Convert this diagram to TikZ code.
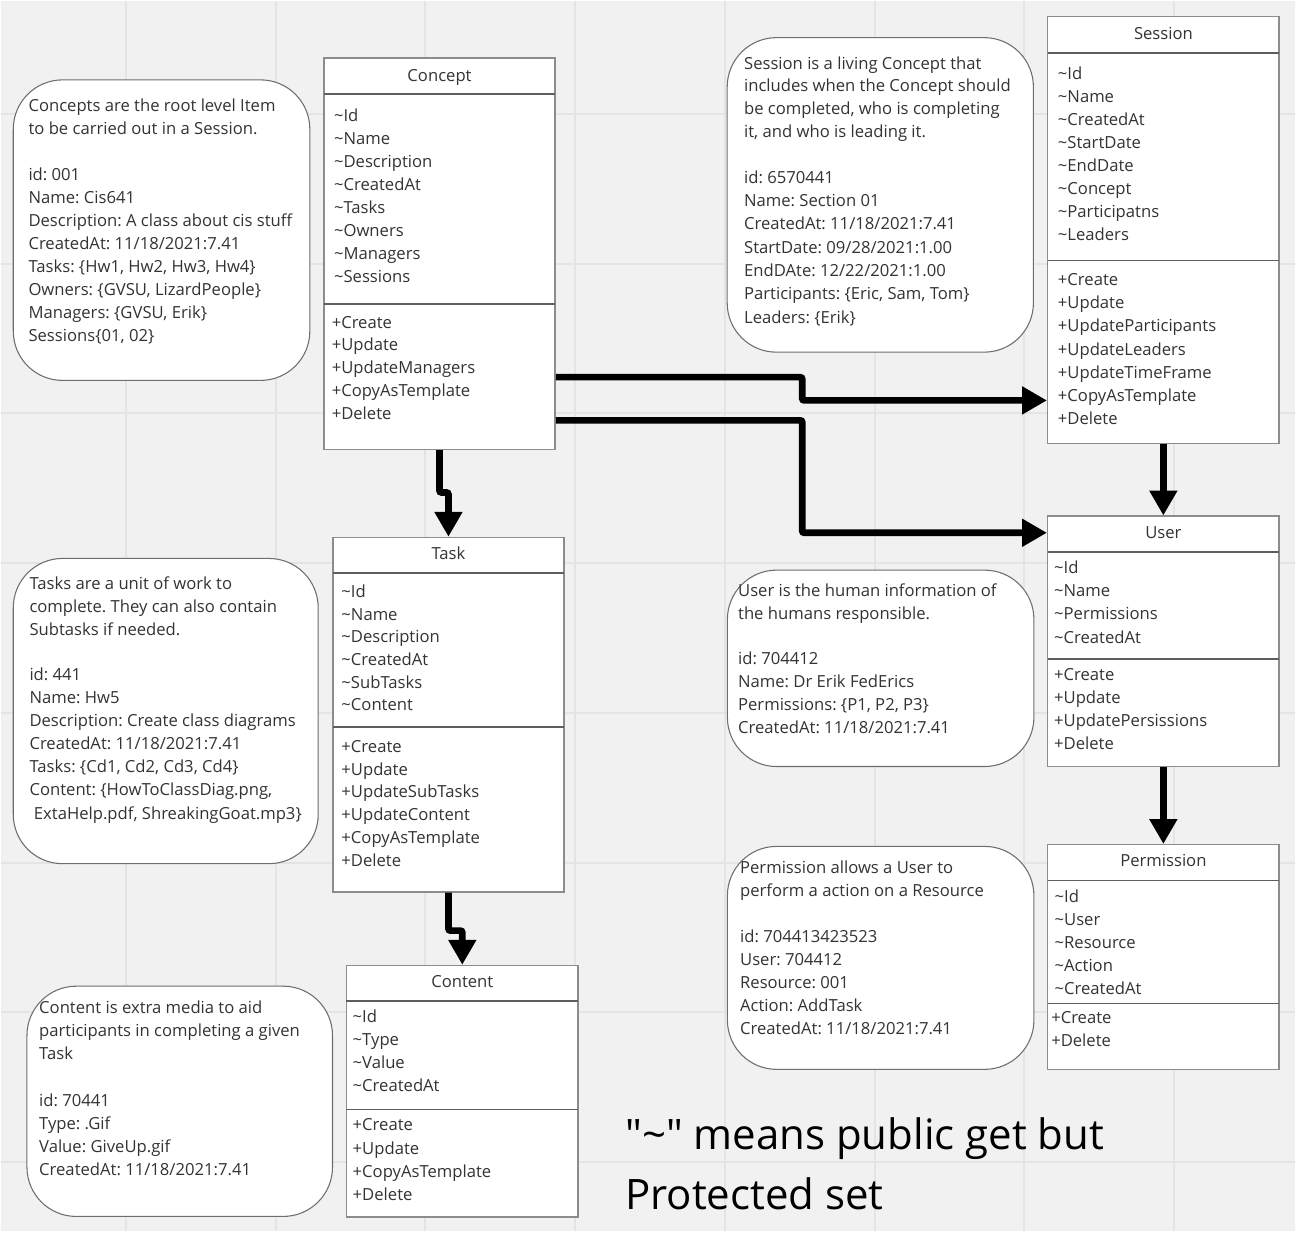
\documentclass[tikz,border=0pt]{standalone}
\usepackage{fontspec}
\setmainfont{Open Sans}
\usetikzlibrary{arrows.meta,fit}
\frenchspacing
\definecolor{canvas}{HTML}{F1F1F1}
\definecolor{gridline}{HTML}{E4E4E4}
\definecolor{boxline}{HTML}{8C8C8C}
\definecolor{ruleline}{HTML}{5E5E5E}
\definecolor{noteline}{HTML}{6E6E6E}
\definecolor{ink}{HTML}{333333}
\tikzset{
  classbox/.style={draw=boxline, line width=1.1pt, fill=white, inner sep=0pt},
  note/.style={draw=noteline, line width=0.8pt, fill=white, rounded corners=37pt, inner sep=0pt},
  entry/.style={anchor=base west, inner sep=0pt, text=ink, font=\fontsize{12.5}{15}\selectfont},
  classname/.style={entry, anchor=base},
  divider/.style={draw=ruleline, line width=1.1pt},
  link/.style={line width=5pt, rounded corners=1.5pt, -{Triangle[length=18.75pt, width=20pt]}},
  legend/.style={anchor=base west, inner sep=0pt, text=black, font=\fontsize{31.5}{38}\selectfont}
}
\begin{document}
\begin{tikzpicture}[x=0.75pt, y=-0.75pt]
    \fill[canvas] (0,0) rectangle (1296,1232);
    \foreach \gx in {125,275,...,1175}
        \draw[gridline, line width=1.5pt] (\gx,0) -- (\gx,1232);
    \foreach \gy in {113,263,...,1163}
        \draw[gridline, line width=1.5pt] (0,\gy) -- (1296,\gy);

    % Concept
    \node[classbox, fit={(323.3,57.3) (555,449)}] (concept) {};
    \draw[divider] (323.3,93.3) -- (555,93.3);
    \draw[divider] (323.3,303.3) -- (555,303.3);
    \node[classname] (concept-name) at (439.2,80.7) {Concept};
    \foreach \a [count=\i from 0] in {Id,Name,Description,CreatedAt,Tasks,Owners,Managers,Sessions}
        \node[entry] (concept-a\i) at (333.3,120.7+23.1*\i) {\textasciitilde\a};
    \foreach \m [count=\i from 0] in {Create,Update,UpdateManagers,CopyAsTemplate,Delete}
        \node[entry] (concept-m\i) at (331,327.7+22.8*\i) {+\m};

    \node[note, fit={(12.3,79) (309.3,380)}] (concept-note) {};
    \foreach \t [count=\i from 0] in {Concepts are the root level Item, to be carried out in a Session.}
        \node[entry] (concept-note-d\i) at (27.3,111+22.3*\i) {\t};
    \foreach \t [count=\i from 0] in {id: 001, Name: Cis641, Description: A class about cis stuff,
        {CreatedAt: 11/18/2021:7.41}, {Tasks: \{Hw1, Hw2, Hw3, Hw4\}}, {Owners: \{GVSU, LizardPeople\}},
        {Managers: \{GVSU, Erik\}}, {Sessions\{01, 02\}}}
        \node[entry] (concept-note-v\i) at (27.3,179.3+23.1*\i) {\t};

    % Session
    \node[classbox, fit={(1048.3,15.7) (1280,443.3)}] (session) {};
    \draw[divider] (1048.3,52.3) -- (1280,52.3);
    \draw[divider] (1048.3,260) -- (1280,260);
    \node[classname] (session-name) at (1164.2,38.3) {Session};
    \foreach \a [count=\i from 0] in {Id,Name,CreatedAt,StartDate,EndDate,Concept,Participatns,Leaders}
        \node[entry] (session-a\i) at (1058.3,78.3+23.1*\i) {\textasciitilde\a};
    \foreach \m [count=\i from 0] in {Create,Update,UpdateParticipants,UpdateLeaders,UpdateTimeFrame,CopyAsTemplate,Delete}
        \node[entry] (session-m\i) at (1058.3,285.3+23.1*\i) {+\m};

    \node[note, fit={(727.3,36.7) (1034,351.7)}] (session-note) {};
    \foreach \t [count=\i from 0] in {Session is a living Concept that, includes when the Concept should,
        {be completed, who is completing}, {it, and who is leading it.}}
        \node[entry] (session-note-d\i) at (744,68.3+22.8*\i) {\t};
    \foreach \t [count=\i from 0] in {id: 6570441, Name: Section 01, {CreatedAt: 11/18/2021:7.41},
        {StartDate: 09/28/2021:1.00}, {EndDAte: 12/22/2021:1.00}, {Participants: \{Eric, Sam, Tom\}}, {Leaders: \{Erik\}}}
        \node[entry] (session-note-v\i) at (744,182.7+23.3*\i) {\t};

    % Task
    \node[classbox, fit={(332.3,537.3) (564,892.3)}] (task) {};
    \draw[divider] (332.3,572.7) -- (564,572.7);
    \draw[divider] (332.3,727.3) -- (564,727.3);
    \node[classname] (task-name) at (448.2,559) {Task};
    \foreach \a [count=\i from 0] in {Id,Name,Description,CreatedAt,SubTasks,Content}
        \node[entry] (task-a\i) at (340.7,597.3+22.7*\i) {\textasciitilde\a};
    \foreach \m [count=\i from 0] in {Create,Update,UpdateSubTasks,UpdateContent,CopyAsTemplate,Delete}
        \node[entry] (task-m\i) at (340.7,752.3+22.9*\i) {+\m};

    \node[note, fit={(12.3,558.3) (317.7,864)}] (task-note) {};
    \foreach \t [count=\i from 0] in {Tasks are a unit of work to, complete. They can also contain, Subtasks if needed.}
        \node[entry] (task-note-d\i) at (28.3,589.3+22.85*\i) {\t};
    \foreach \t [count=\i from 0] in {id: 441, Name: Hw5, Description: Create class diagrams,
        {CreatedAt: 11/18/2021:7.41}, {Tasks: \{Cd1, Cd2, Cd3, Cd4\}}, {Content: \{HowToClassDiag.png,}}
        \node[entry] (task-note-v\i) at (28.3,680.7+23.1*\i) {\t};
    \node[entry] (task-note-v6) at (32.7,819.3) {ExtaHelp.pdf, ShreakingGoat.mp3\}};

    % Content
    \node[classbox, fit={(346,966) (578,1217.7)}] (content) {};
    \draw[divider] (346,1001.7) -- (578,1001.7);
    \draw[divider] (346,1110) -- (578,1110);
    \node[classname] (content-name) at (462,988.3) {Content};
    \foreach \a [count=\i from 0] in {Id,Type,Value,CreatedAt}
        \node[entry] (content-a\i) at (352,1022.7+23.2*\i) {\textasciitilde\a};
    \foreach \m [count=\i from 0] in {Create,Update,CopyAsTemplate,Delete}
        \node[entry] (content-m\i) at (352,1131.7+23.1*\i) {+\m};

    \node[note, fit={(26,986.7) (332,1217.3)}] (content-note) {};
    \foreach \t [count=\i from 0] in {Content is extra media to aid, participants in completing a given, Task}
        \node[entry] (content-note-d\i) at (38,1014.3+22.85*\i) {\t};
    \foreach \t [count=\i from 0] in {id: 70441, Type: .Gif, Value: GiveUp.gif, {CreatedAt: 11/18/2021:7.41}}
        \node[entry] (content-note-v\i) at (38,1106.7+23.1*\i) {\t};

    % User
    \node[classbox, fit={(1048.3,516) (1280,766.7)}] (user) {};
    \draw[divider] (1048.3,551.7) -- (1280,551.7);
    \draw[divider] (1048.3,659) -- (1280,659);
    \node[classname] (user-name) at (1164.2,538.3) {User};
    \foreach \a [count=\i from 0] in {Id,Name,Permissions,CreatedAt}
        \node[entry] (user-a\i) at (1054.5,573.3+23.3*\i) {\textasciitilde\a};
    \foreach \m [count=\i from 0] in {Create,Update,UpdatePersissions,Delete}
        \node[entry] (user-m\i) at (1054.5,681+23*\i) {+\m};

    \node[note, fit={(727.5,570) (1034.5,766.7)}] (user-note) {};
    \foreach \t [count=\i from 0] in {User is the human information of, the humans responsible.}
        \node[entry] (user-note-d\i) at (738,596+23*\i) {\t};
    \foreach \t [count=\i from 0] in {id: 704412, Name: Dr Erik FedErics, {Permissions: \{P1, P2, P3\}}, {CreatedAt: 11/18/2021:7.41}}
        \node[entry] (user-note-v\i) at (738,664.3+23*\i) {\t};

    % Permission
    \node[classbox, fit={(1048.3,845) (1280,1070)}] (permission) {};
    \draw[divider] (1048.3,880.7) -- (1280,880.7);
    \draw[divider] (1048.3,1004.3) -- (1280,1004.3);
    \node[classname] (permission-name) at (1164.2,867.3) {Permission};
    \foreach \a [count=\i from 0] in {Id,User,Resource,Action,CreatedAt}
        \node[entry] (permission-a\i) at (1055,902.7+23.1*\i) {\textasciitilde\a};
    \foreach \m [count=\i from 0] in {Create,Delete}
        \node[entry] (permission-m\i) at (1051.6,1024+23.3*\i) {+\m};

    \node[note, fit={(727.5,846.7) (1034.5,1070)}] (permission-note) {};
    \foreach \t [count=\i from 0] in {Permission allows a User to, perform a action on a Resource}
        \node[entry] (permission-note-d\i) at (740,874+23.3*\i) {\t};
    \foreach \t [count=\i from 0] in {id: 704413423523, User: 704412, Resource: 001, Action: AddTask, {CreatedAt: 11/18/2021:7.41}}
        \node[entry] (permission-note-v\i) at (740,942.7+23.15*\i) {\t};

    \node[legend] (legend-1) at (625,1150) {\textquotedbl\textasciitilde\textquotedbl{} means public get but};
    \node[legend] (legend-2) at (625,1210) {Protected set};

    \draw[link] ([yshift=54.75pt]concept.south east) -- ++(246.7,0) |- ([yshift=33pt]session.south west);
    \draw[link] ([yshift=22.3pt]concept.south east) -- ++(246.7,0) |- ([yshift=-13pt]user.north west);
    \draw[link] (concept.south) -- ++(0,42.5) -| (task.north);
    \draw[link] (task.south) -- ++(0,38) -| (content.north);
    \draw[link] (session.south) -- (user.north);
    \draw[link] (user.south) -- (permission.north);
\end{tikzpicture}
\end{document}
